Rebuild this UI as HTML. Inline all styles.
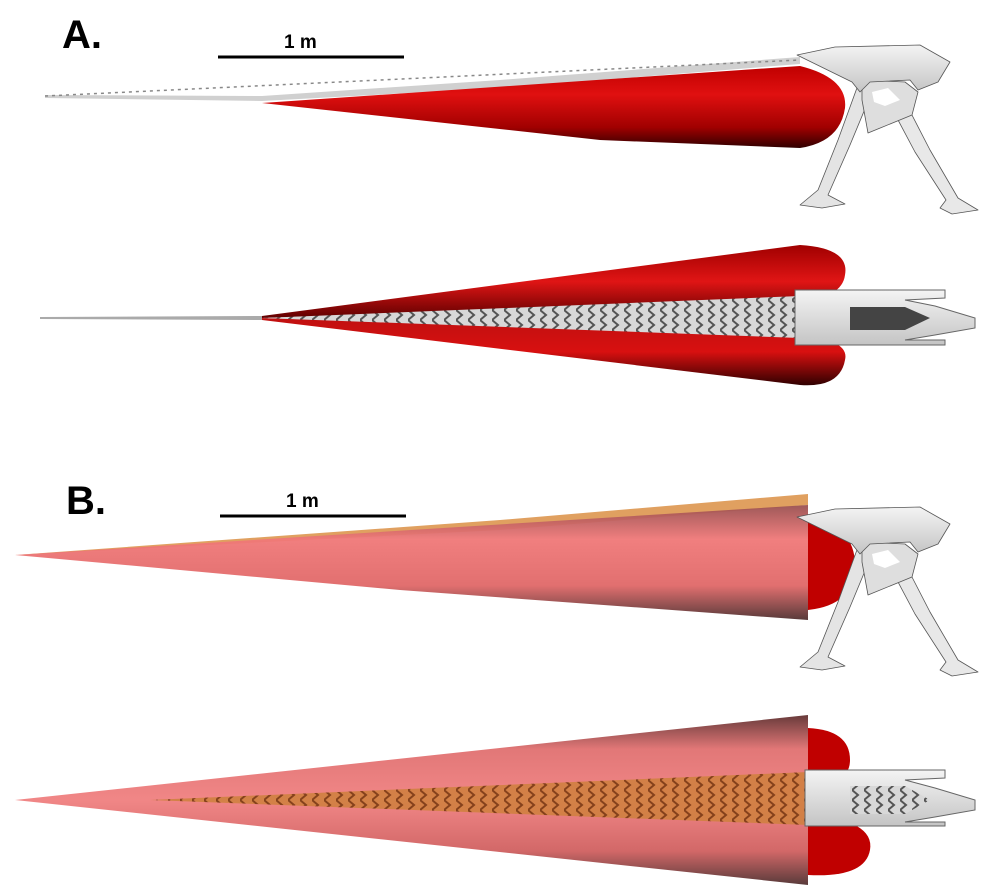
<!DOCTYPE html>
<html><head><meta charset="utf-8"><style>
html,body{margin:0;padding:0;background:#fff}
svg{display:block}
</style></head><body>
<svg width="997" height="888" viewBox="0 0 997 888" xmlns="http://www.w3.org/2000/svg">
<defs>
<linearGradient id="redV" x1="0" y1="0" x2="0" y2="1">
<stop offset="0" stop-color="#c00000"/><stop offset="0.35" stop-color="#e01010"/><stop offset="0.75" stop-color="#a00000"/><stop offset="1" stop-color="#300000"/></linearGradient>
<linearGradient id="redU" x1="0" y1="0" x2="0" y2="1">
<stop offset="0" stop-color="#a00000"/><stop offset="0.5" stop-color="#e01515"/><stop offset="1" stop-color="#600000"/></linearGradient>
<linearGradient id="redL" x1="0" y1="0" x2="0" y2="1">
<stop offset="0" stop-color="#c01010"/><stop offset="0.5" stop-color="#d81010"/><stop offset="1" stop-color="#300000"/></linearGradient>
<linearGradient id="pinkV" x1="0" y1="0" x2="0" y2="1">
<stop offset="0" stop-color="#9a5050"/><stop offset="0.3" stop-color="#f07878"/><stop offset="0.7" stop-color="#e06868"/><stop offset="1" stop-color="#503030"/></linearGradient>
<linearGradient id="pinkU" x1="0" y1="0" x2="0" y2="1">
<stop offset="0" stop-color="#603030"/><stop offset="0.4" stop-color="#e07070"/><stop offset="1" stop-color="#f08080"/></linearGradient>
<linearGradient id="pinkL" x1="0" y1="0" x2="0" y2="1">
<stop offset="0" stop-color="#f08080"/><stop offset="0.6" stop-color="#d06060"/><stop offset="1" stop-color="#503030"/></linearGradient>
<linearGradient id="grey" x1="0" y1="0" x2="0" y2="1">
<stop offset="0" stop-color="#f4f4f4"/><stop offset="1" stop-color="#c4c4c4"/></linearGradient>
<pattern id="vert" width="12" height="10" patternUnits="userSpaceOnUse">
<rect width="12" height="10" fill="#d8d8d8"/><path d="M0 0 L6 5 L0 10" stroke="#555" stroke-width="2" fill="none"/></pattern>
<pattern id="vertO" width="12" height="10" patternUnits="userSpaceOnUse">
<rect width="12" height="10" fill="#d08040"/><path d="M0 0 L6 5 L0 10" stroke="#7a3a10" stroke-width="2" fill="none"/></pattern>
<g id="legs" stroke="#555" stroke-width="0.8" stroke-linejoin="round">
<path d="M858 85 L872 92 L850 145 L828 195 L845 204 L822 208 L800 205 L818 190 L838 140 Z" fill="#e4e4e4"/>
<path d="M880 86 L896 84 L930 150 L958 198 L978 210 L952 214 L940 208 L946 200 L915 152 Z" fill="#e8e8e8"/>
<path d="M862 80 L905 82 L918 92 L912 115 L868 133 L862 100 Z" fill="#dedede"/>
<path d="M872 92 L888 88 L900 100 L885 106 L874 102 Z" fill="#fff" stroke="none"/>
<path d="M797 55 L835 47 L920 45 L950 62 L938 82 L918 90 L910 80 L870 82 L860 92 L852 82 Z" fill="url(#grey)"/>
</g>
</defs>

<!-- A -->
<text x="62" y="48" font-family="Liberation Sans, sans-serif" font-weight="bold" font-size="40">A.</text>
<line x1="218" y1="57" x2="404" y2="57" stroke="#000" stroke-width="3"/>
<text x="284" y="48" font-family="Liberation Sans, sans-serif" font-weight="bold" font-size="19">1 m</text>
<path d="M45 95 L262 96 L500 80 L800 57 L800 64 L500 88 L262 101 L45 98 Z" fill="#d0d0d0"/>
<path d="M45 96 L800 60" stroke="#888" stroke-width="1.5" stroke-dasharray="3 4" fill="none"/>
<path d="M262 103 L800 66 Q848 78 845 108 Q840 142 800 148 L600 140 Z" fill="url(#redV)"/>
<use href="#legs"/>

<!-- A bottom -->
<path d="M40 317 L262 316 L262 320 L40 319 Z" fill="#aaa"/>
<path d="M262 316 L800 245 Q850 248 845 275 Q842 298 800 300 L262 318 Z" fill="url(#redU)"/>
<path d="M262 318 L800 335 Q850 340 845 360 Q840 388 800 385 L262 320 Z" fill="url(#redL)"/>
<path d="M262 318 L800 296 L800 338 Z" fill="url(#vert)"/>
<path d="M795 290 L945 290 L945 298 L905 300 L935 306 L975 318 L975 328 L935 335 L905 340 L945 340 L945 345 L795 345 Z" fill="url(#grey)" stroke="#666"/>
<path d="M850 307 L905 307 L930 318 L905 330 L850 330 Z" fill="#444"/>

<!-- B -->
<text x="66" y="514" font-family="Liberation Sans, sans-serif" font-weight="bold" font-size="40">B.</text>
<line x1="220" y1="516" x2="406" y2="516" stroke="#000" stroke-width="3"/>
<text x="286" y="507" font-family="Liberation Sans, sans-serif" font-weight="bold" font-size="19">1 m</text>
<path d="M15 555 L500 520 L808 494 L808 505 L500 530 Z" fill="#e0a060"/>
<path d="M808 520 Q855 525 855 565 Q855 605 808 610 Z" fill="#c00000"/>
<path d="M15 555 L808 505 L808 620 L400 590 Z" fill="url(#pinkV)" opacity="0.95"/>
<g transform="translate(0,462)"><use href="#legs"/></g>

<!-- B bottom -->
<path d="M808 728 Q850 730 850 760 Q850 785 808 790 Z" fill="#c00000"/>
<path d="M808 815 Q875 820 870 850 Q865 878 808 875 Z" fill="#c00000"/>
<path d="M15 800 L808 715 L808 800 Z" fill="url(#pinkU)" opacity="0.95"/>
<path d="M15 800 L808 800 L808 885 Z" fill="url(#pinkL)" opacity="0.95"/>
<path d="M150 800 L808 772 L808 825 Z" fill="url(#vertO)" opacity="0.9"/>
<path d="M805 770 L945 770 L945 778 L905 780 L935 788 L975 800 L975 810 L935 817 L905 822 L945 822 L945 826 L805 826 Z" fill="url(#grey)" stroke="#666"/>
<path d="M850 786 L905 786 L930 800 L905 814 L850 814 Z" fill="url(#vert)"/>
</svg>
</body></html>
